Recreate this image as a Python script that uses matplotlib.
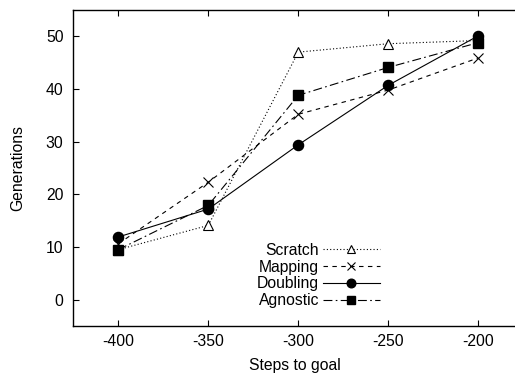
import matplotlib
matplotlib.use("Agg")
import matplotlib.pyplot as plt

steps = [-400, -350, -300, -250, -200]
scratch = [9.5, 14.1, 47.0, 48.6, 49.2]
mapping = [10.6, 22.3, 35.2, 39.8, 45.9]
doubling = [11.9, 17.2, 29.4, 40.7, 50.1]
agnostic = [9.5, 17.9, 38.8, 44.1, 48.8]
xticks = [-400, -350, -300, -250, -200]
yticks = [0, 10, 20, 30, 40, 50]

plt.rcParams['font.family'] = ['Liberation Sans', 'DejaVu Sans']
fs = 11.3

fig = plt.figure(figsize=(5.15, 3.76), dpi=100)
ax = fig.add_axes([73.3/515, 1-326/376, 1-73.3/515 + 0.002, (326-10)/376])

lw = 0.8
ax.plot(steps, scratch, color='black', lw=lw, ls=(0, (1, 2)), marker='^',
        ms=7, mfc='white', mec='black', mew=0.8, label='Scratch')
ax.plot(steps, mapping, color='black', lw=lw, ls=(0, (4, 4)), marker='x',
        ms=7.5, mew=0.8, label='Mapping')
ax.plot(steps, doubling, color='black', lw=lw, ls='-', marker='o',
        ms=7.3, label='Doubling')
ax.plot(steps, agnostic, color='black', lw=lw, ls=(0, (8, 3, 1.5, 3)), marker='s',
        ms=7, label='Agnostic')

ax.set_xlim(-425, -179)
ax.set_ylim(-5, 55)
ax.set_xticks(xticks)
ax.set_yticks(yticks)
ax.set_xticklabels([str(v) for v in xticks])
ax.set_yticklabels([str(v) for v in yticks])
ax.tick_params(direction='in', length=4, width=0.8, labelsize=fs, top=True,
               right=False, colors='black')
ax.tick_params(axis='y', pad=7)
ax.tick_params(axis='x', pad=6)
for s in ['left', 'bottom', 'top']:
    ax.spines[s].set_linewidth(1.0)
ax.spines['right'].set_visible(False)

ax.set_xlabel('Steps to goal', fontsize=fs, labelpad=6.5)
ax.set_ylabel('Generations', fontsize=fs, labelpad=15)

leg = fig.legend(loc='center right', bbox_to_anchor=(379.5/515, 1-275.5/376),
                 bbox_transform=fig.transFigure, frameon=False, markerfirst=False,
                 fontsize=fs, handlelength=3.6, handletextpad=0.25,
                 labelspacing=0.11, borderpad=0, borderaxespad=0, markerscale=0.85)

fig.savefig('out.png', dpi=100)
